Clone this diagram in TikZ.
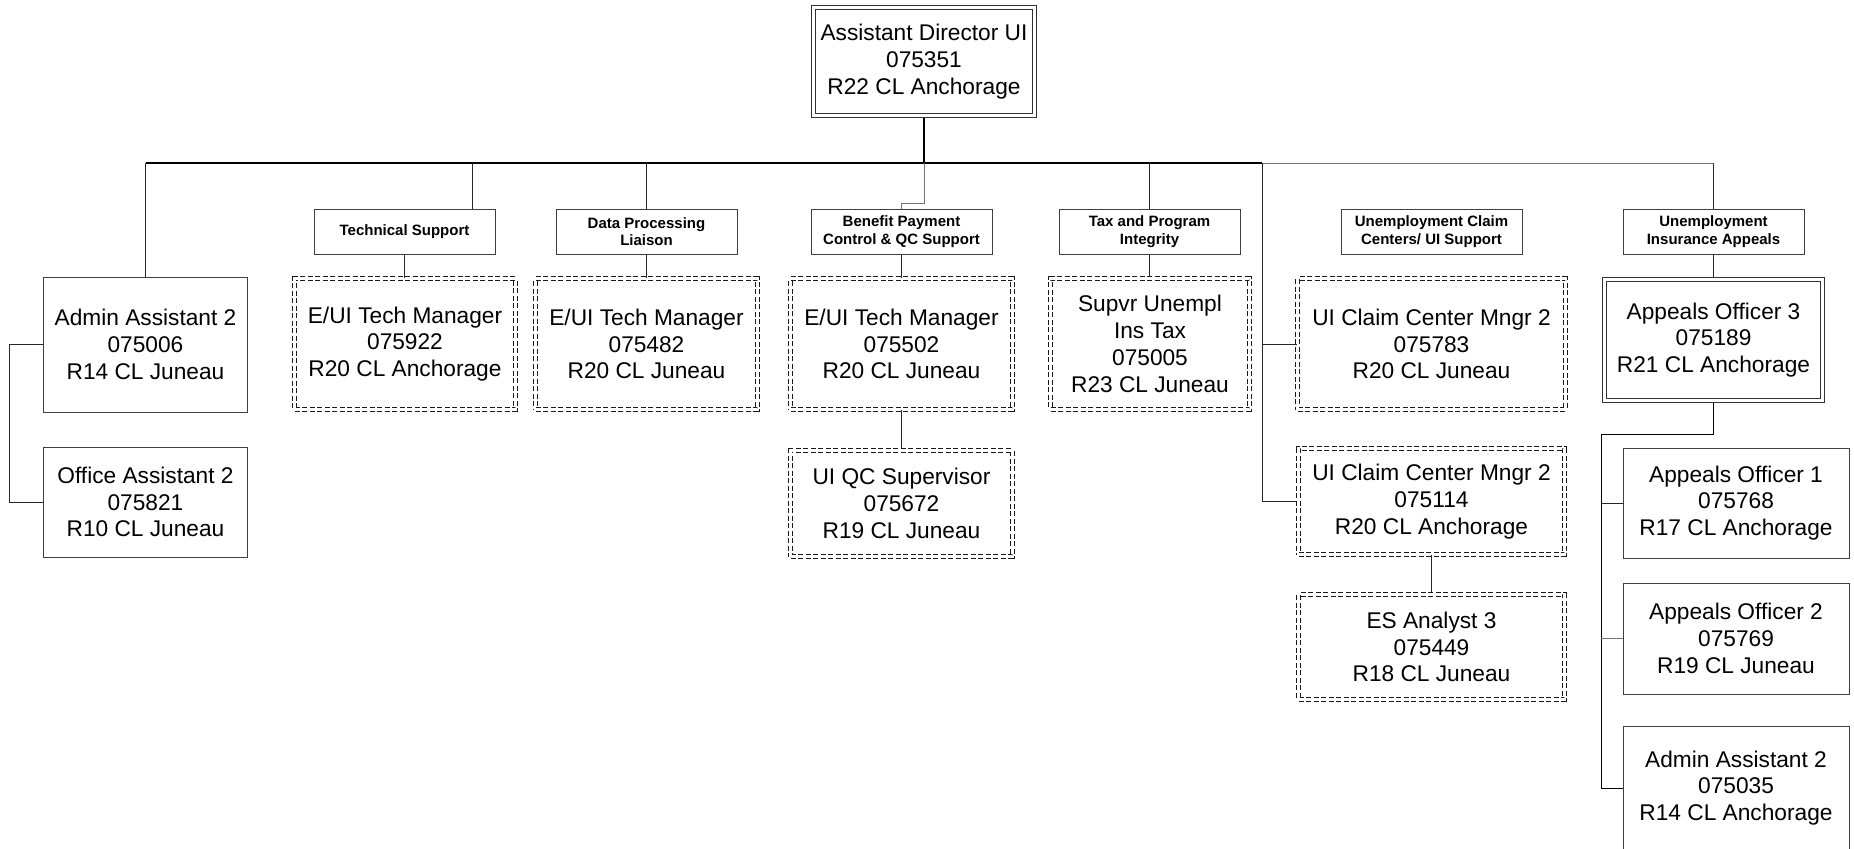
\documentclass[tikz,border=0pt]{standalone}
\usepackage{fontspec}
\setmainfont{Liberation Sans}
\usetikzlibrary{backgrounds}
\begin{document}
\begin{tikzpicture}[x=1bp,y=-1bp,
  big/.style={font=\fontsize{22.7bp}{26.8bp}\selectfont},
  hdr/.style={draw=black!75, line width=1bp, minimum width=181bp, minimum height=45bp, inner sep=0pt, align=center, font=\fontsize{15bp}{17.7bp}\selectfont\bfseries},
  sbox/.style={draw=black!75, line width=1bp, inner sep=0pt, align=center, big},
  dbox/.style={draw=black!80, line width=0.9bp, double=white, double distance=3.4bp, inner sep=0pt, align=center, big},
  ddbox/.style={dbox, draw=black!90, dash pattern=on 5bp off 2.5bp},
  conn/.style={draw=black!85, line width=1bp},
  conng/.style={draw=black!55, line width=1bp},
  connb/.style={draw=black, line width=1.5bp}
]
\useasboundingbox (0,0) rectangle (1854,849);
\clip (0,0) rectangle (1854,849);

% top
\node[dbox, minimum width=221bp, minimum height=108bp] (top) at (924,61.5) {Assistant Director UI\\075351\\R22 CL Anchorage};

% section headers
\node[hdr] (tech) at (404.5,231.5) {Technical Support};
\node[hdr] (data) at (646.5,231.5) {Data Processing\\Liaison};
\node[hdr] (bpc) at (901.5,231.5) {Benefit Payment\\Control \& QC Support};
\node[hdr] (tax) at (1149.5,231.5) {Tax and Program\\Integrity};
\node[hdr] (ucc) at (1431.5,231.5) {Unemployment Claim\\Centers/ UI Support};
\node[hdr] (uia) at (1713.5,231.5) {Unemployment\\Insurance Appeals};

% positions
\node[sbox, minimum width=203bp, minimum height=135bp] (adm1) at (145.5,344.5) {Admin Assistant 2\\075006\\R14 CL Juneau};
\node[sbox, minimum width=203bp, minimum height=110bp] (off) at (145.5,502) {Office Assistant 2\\075821\\R10 CL Juneau};
\node[ddbox, minimum width=221bp, minimum height=131bp] (et1) at (405,344) {E/UI Tech Manager\\075922\\R20 CL Anchorage};
\node[ddbox, minimum width=222bp, minimum height=131bp] (et2) at (646.5,344) {E/UI Tech Manager\\075482\\R20 CL Juneau};
\node[ddbox, minimum width=222bp, minimum height=131bp] (et3) at (901.5,344) {E/UI Tech Manager\\075502\\R20 CL Juneau};
\node[ddbox, minimum width=199bp, minimum height=131bp] (sup) at (1150,344) {Supvr Unempl\\Ins Tax\\075005\\R23 CL Juneau};
\node[ddbox, minimum width=268bp, minimum height=131bp] (uic1) at (1431.5,344) {UI Claim Center Mngr 2\\075783\\R20 CL Juneau};
\node[ddbox, minimum width=222bp, minimum height=106bp] (qc) at (901.5,503.5) {UI QC Supervisor\\075672\\R19 CL Juneau};
\node[ddbox, minimum width=266bp, minimum height=106bp] (uic2) at (1431.5,501.5) {UI Claim Center Mngr 2\\075114\\R20 CL Anchorage};
\node[ddbox, minimum width=266bp, minimum height=105bp] (es) at (1431.5,647) {ES Analyst 3\\075449\\R18 CL Juneau};
\node[dbox, minimum width=218bp, minimum height=121bp] (ao3) at (1713.5,340) {Appeals Officer 3\\075189\\R21 CL Anchorage};
\node[sbox, minimum width=226bp, minimum height=110bp] (ao1) at (1736,503) {Appeals Officer 1\\075768\\R17 CL Anchorage};
\node[sbox, minimum width=226bp, minimum height=111bp] (ao2) at (1736,638.5) {Appeals Officer 2\\075769\\R19 CL Juneau};
\node[sbox, minimum width=226bp, minimum height=124bp] (adm2) at (1736,788) {Admin Assistant 2\\075035\\R14 CL Anchorage};

% named points for connectors
\coordinate (bus) at (924,163);
\coordinate (uicv) at (1262,163);
\coordinate (techin) at (472,209);
\coordinate (bpj) at (924,203);
\coordinate (aov) at (1601,434);

\begin{scope}[on background layer]
\draw[connb] (top.south) -- (bus);
\draw[conn, line width=1.3bp, draw=black] (adm1.north |- bus) -- (uicv);
\draw[conng] (uicv) -- (uia.north |- bus);
\draw[conn] (adm1.north |- bus) -- (adm1.north);
\draw[conn] (techin |- bus) -- (techin);
\draw[conn] (data.north |- bus) -- (data.north);
\draw[conng] (bus) -- (bpj) -| (bpc.north);
\draw[conn] (tax.north |- bus) -- (tax.north);
\draw[conn] (uicv) |- (uic1.west);
\draw[conn] (uicv) |- (uic2.west);
\draw[conn] (uia.north |- bus) -- (uia.north);
\draw[conn] (tech.south) -- (tech.south |- et1.north);
\draw[conn] (data.south) -- (et2.north);
\draw[conn] (bpc.south) -- (et3.north);
\draw[conn] (tax.south) -- (tax.south |- sup.north);
\draw[conn] (uia.south) -- (ao3.north);
\draw[conn] (et3.south) -- (qc.north);
\draw[conn] (uic2.south) -- (es.north);
\draw[conn] (adm1.west) -- ++(-34,0) |- (off.west);
\draw[conn, draw=black] (ao3.south) |- (aov) |- (adm2.west);
\draw[conn] (aov |- ao1.west) -- (ao1.west);
\draw[conng] (aov |- ao2.west) -- (ao2.west);
\end{scope}
\end{tikzpicture}
\end{document}
